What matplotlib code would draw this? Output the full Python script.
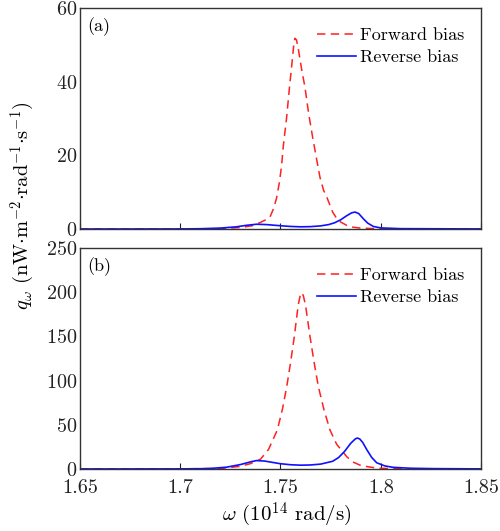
import matplotlib.pyplot as plt

plt.rcParams['font.family'] = 'cmr10'
plt.rcParams['mathtext.fontset'] = 'cm'
plt.rcParams['axes.formatter.use_mathtext'] = True

# panel (a)
w_fa = [1.65, 1.70, 1.72, 1.73, 1.736, 1.740, 1.743, 1.7448, 1.7465, 1.748, 1.7494, 1.7505,
        1.7514, 1.753, 1.7544, 1.7558, 1.7567, 1.7572, 1.758, 1.759, 1.7605, 1.7622, 1.764,
        1.766, 1.768, 1.7697, 1.7715, 1.773, 1.776, 1.778, 1.780, 1.783, 1.786, 1.79, 1.80, 1.85]
q_fa = [0, 0, 0.1, 0.4, 0.9, 1.8, 2.6, 3.3, 5.5, 8.3, 12.5, 17,
        22.5, 30, 38, 45.5, 50.5, 51.8, 51.3, 48.5, 43.5, 38.5, 31.5,
        25, 19, 14, 10.5, 8.8, 4.6, 2.9, 1.9, 1.0, 0.5, 0.25, 0.05, 0]

w_ra = [1.65, 1.70, 1.71, 1.72, 1.728, 1.733, 1.738, 1.743, 1.7498, 1.755, 1.76, 1.765,
        1.770, 1.774, 1.777, 1.780, 1.783, 1.7855, 1.7872, 1.789, 1.7913, 1.7935, 1.7963,
        1.80, 1.81, 1.85]
q_ra = [0, 0.02, 0.08, 0.25, 0.6, 1.0, 1.3, 1.2, 0.9, 0.7, 0.6, 0.65,
        0.85, 1.2, 1.7, 2.5, 3.6, 4.4, 4.6, 4.2, 2.8, 1.6, 0.7,
        0.3, 0.1, 0.02]

# panel (b)
w_fb = [1.65, 1.70, 1.72, 1.73, 1.735, 1.74, 1.744, 1.7484, 1.751, 1.7531, 1.755, 1.7569,
        1.7588, 1.7598, 1.7606, 1.7614, 1.7625, 1.7647, 1.7668, 1.7689, 1.7718, 1.7747,
        1.778, 1.783, 1.786, 1.79, 1.795, 1.80, 1.81, 1.85]
q_fb = [0, 0.2, 0.5, 3, 6, 11, 22, 44, 68, 93, 120, 150,
        185, 196, 199.5, 196, 185, 150, 120, 93, 66, 44,
        28, 14, 8, 4, 2, 0.8, 0.2, 0]

w_rb = [1.65, 1.70, 1.71, 1.715, 1.723, 1.73, 1.735, 1.738, 1.742, 1.7498, 1.755, 1.76,
        1.7647, 1.77, 1.776, 1.779, 1.782, 1.785, 1.7873, 1.7883, 1.7895, 1.791, 1.793,
        1.7955, 1.798, 1.802, 1.806, 1.815, 1.8266, 1.85]
q_rb = [0, 0.1, 0.3, 0.6, 2, 5, 8, 9.5, 9, 6, 4.8, 4.3,
        4.5, 5.5, 8.7, 13, 20, 29, 34, 35, 34, 30, 22,
        13, 7, 3.5, 1.9, 0.8, 0.4, 0.1]

xticks = [1.65, 1.7, 1.75, 1.8, 1.85]
xticklabels = ['1.65', '1.7', '1.75', '1.8', '1.85']

fig = plt.figure(figsize=(5.0, 5.31), dpi=100)
ax1 = fig.add_axes([0.16, 0.5687, 0.802, 0.4162])
ax2 = fig.add_axes([0.16, 0.1168, 0.802, 0.4162])

panels = [(ax1, w_fa, q_fa, w_ra, q_ra, 60, [0, 20, 40, 60], '(a)'),
          (ax2, w_fb, q_fb, w_rb, q_rb, 250, [0, 50, 100, 150, 200, 250], '(b)')]

for ax, wf, qf, wr, qr, ymax, yt, lab in panels:
    ax.plot(wf, qf, color='#ff2020', ls=(0, (5.5, 3.5)), lw=1.1, label='Forward bias')
    ax.plot(wr, qr, color='#1010ff', lw=1.2, label='Reverse bias')
    ax.set_xlim(1.65, 1.85)
    ax.set_ylim(0, ymax)
    ax.set_yticks(yt)
    ax.set_xticks(xticks)
    ax.tick_params(axis='x', direction='in', length=4, width=0.8, labelsize=14.5, pad=7,
                   colors='#222222')
    ax.tick_params(axis='y', length=0, labelsize=14.5, pad=2, colors='#222222')
    for s in ax.spines.values():
        s.set_linewidth(1.0)
        s.set_color('#333333')
    ax.text(0.018, 0.96, lab, transform=ax.transAxes, fontsize=13, va='top', ha='left')
    ax.legend(loc='upper right', bbox_to_anchor=(1.0, 0.985), frameon=False, fontsize=13,
              handlelength=2.15, handletextpad=0.25, labelspacing=0.35, borderaxespad=0.5)

ax1.set_xticklabels([])
ax2.set_xticklabels(xticklabels)

fig.text(0.046, 0.612,
         r'$q_\omega$ (nW$\cdot$m$^{-2}$$\cdot$rad$^{-1}$$\cdot$s$^{-1}$)',
         rotation=90, ha='center', va='center', fontsize=14.8)
fig.text(0.574, 0.03, r'$\omega$ (10$^{14}$ rad/s)', ha='center', va='center', fontsize=15)

plt.savefig('out.png', dpi=100)
